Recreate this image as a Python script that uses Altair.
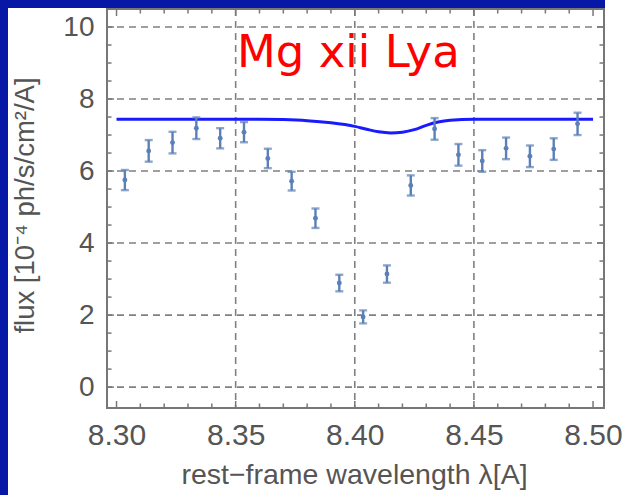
import altair as alt
import pandas as pd

# ---- data ----
wavelength = [8.3035, 8.3135, 8.3235, 8.3335, 8.3435, 8.3535, 8.3635, 8.3735, 8.3835, 8.3935,
              8.4035, 8.4135, 8.4235, 8.4335, 8.4435, 8.4535, 8.4635, 8.4735, 8.4835, 8.4935]
flux = [5.75, 6.56, 6.79, 7.19, 6.91, 7.08, 6.35, 5.72, 4.69, 2.89,
        1.95, 3.14, 5.60, 7.17, 6.45, 6.28, 6.63, 6.41, 6.61, 7.31]
flux_err = [0.28, 0.30, 0.30, 0.30, 0.28, 0.28, 0.27, 0.26, 0.27, 0.23,
            0.18, 0.24, 0.28, 0.30, 0.30, 0.30, 0.30, 0.30, 0.30, 0.31]

model_wavelength = [8.30, 8.36, 8.37, 8.38, 8.39, 8.40, 8.405, 8.41, 8.415, 8.42,
                    8.425, 8.43, 8.435, 8.44, 8.45, 8.50]
model_flux = [7.44, 7.44, 7.43, 7.40, 7.34, 7.24, 7.16, 7.09, 7.06, 7.08,
              7.15, 7.27, 7.36, 7.41, 7.44, 7.44]

x_major = [8.30, 8.35, 8.40, 8.45, 8.50]
x_minor = [8.31, 8.32, 8.33, 8.34, 8.36, 8.37, 8.38, 8.39, 8.41, 8.42, 8.43, 8.44,
           8.46, 8.47, 8.48, 8.49]
x_grid = [8.35, 8.40, 8.45]
y_major = [0, 2, 4, 6, 8, 10]
y_minor = [0.5, 1, 1.5, 2.5, 3, 3.5, 4.5, 5, 5.5, 6.5, 7, 7.5, 8.5, 9, 9.5]
y_grid = [0, 2, 4, 6, 8, 10]

title_text = "Mg xii Lya"
x_title = "rest\u2212frame wavelength \u03bb[A]"
y_title = "flux [10\u207b\u2074 ph/s/cm\u00b2/A]"

# ---- layout / style ----
W, H = 497, 399
PAD = {"left": 107, "top": 9, "right": 19, "bottom": 87}
GRAY = "#555555"
GRID = "#808080"
FRAME = "#777777"
PT = "#5b80b8"
BG_BLUE = "#0818a6"
FONT = "Liberation Sans"

obs = pd.DataFrame({"wl": wavelength, "flux": flux,
                    "lo": [f - e for f, e in zip(flux, flux_err)],
                    "hi": [f + e for f, e in zip(flux, flux_err)]})
model = pd.DataFrame({"wl": model_wavelength, "flux": model_flux})

xscale = alt.Scale(domain=[8.296, 8.5046], nice=False, zero=False)
yscale = alt.Scale(domain=[-0.58, 10.5], nice=False, zero=False)

xaxis = alt.Axis(values=x_major, format=".2f", labelFontSize=30, labelColor=GRAY, labelFont=FONT,
                 labelPadding=12, ticks=False, domain=False, grid=False, labelFlush=False,
                 labelOverlap=False, title=x_title, titleFont=FONT, titleFontSize=28.5,
                 titleFontWeight="normal", titleColor=GRAY, titleX=247, titleY=75,
                 titleBaseline="alphabetic", titleAlign="center")
yaxis = alt.Axis(values=y_major, format="d", labelFontSize=28, labelColor=GRAY, labelFont=FONT,
                 labelPadding=13, ticks=False, domain=False, grid=False, labelFlush=False,
                 labelOverlap=False, title=y_title, titleFont=FONT, titleFontSize=27.5,
                 titleFontWeight="normal", titleColor=GRAY, titleAngle=270, titleX=-74,
                 titleY=196, titleBaseline="alphabetic", titleAlign="center")


def X(field):
    return alt.X(field, type="quantitative", scale=xscale, axis=xaxis)


def Y(field):
    return alt.Y(field, type="quantitative", scale=yscale, axis=yaxis)


one = pd.DataFrame({"k": [0]})

# blue border strips (decoration of the slide)
left_strip = alt.Chart(one).mark_rect(color=BG_BLUE).encode(
    x=alt.value(-PAD["left"]), x2=alt.value(-PAD["left"] + 8),
    y=alt.value(-PAD["top"]), y2=alt.value(H + PAD["bottom"]))
top_strip = alt.Chart(one).mark_rect(color=BG_BLUE).encode(
    x=alt.value(-PAD["left"]), x2=alt.value(498),
    y=alt.value(-PAD["top"]), y2=alt.value(-PAD["top"] + 8))

ygrid = alt.Chart(pd.DataFrame({"v": y_grid})).mark_rule(
    color=GRID, strokeDash=[7, 5], strokeWidth=1.6).encode(y=Y("v"))
xgrid = alt.Chart(pd.DataFrame({"v": x_grid})).mark_rule(
    color=GRID, strokeDash=[7, 5], strokeWidth=1.6).encode(x=X("v"))


# inward ticks
def xticks(vals, length):
    d = pd.DataFrame({"v": vals})
    b = alt.Chart(d).mark_rule(color=FRAME, strokeWidth=1.5).encode(
        x=X("v"), y=alt.value(H), y2=alt.value(H - length))
    t = alt.Chart(d).mark_rule(color=FRAME, strokeWidth=1.5).encode(
        x=X("v"), y=alt.value(0), y2=alt.value(length))
    return [b, t]


def yticks(vals, length):
    d = pd.DataFrame({"v": vals})
    l = alt.Chart(d).mark_rule(color=FRAME, strokeWidth=1.5).encode(
        y=Y("v"), x=alt.value(0), x2=alt.value(length))
    r = alt.Chart(d).mark_rule(color=FRAME, strokeWidth=1.5).encode(
        y=Y("v"), x=alt.value(W), x2=alt.value(W - length))
    return [l, r]


model_line = alt.Chart(model).mark_line(color="#1a1aff", strokeWidth=3, interpolate="monotone").encode(
    x=X("wl"), y=Y("flux"))

bars = alt.Chart(obs).mark_rule(color=PT, strokeWidth=2.4).encode(
    x=X("wl"), y=Y("lo"), y2="hi")
cap_lo = alt.Chart(obs).mark_tick(color=PT, orient="horizontal", size=8, thickness=2.4).encode(
    x=X("wl"), y=Y("lo"))
cap_hi = alt.Chart(obs).mark_tick(color=PT, orient="horizontal", size=8, thickness=2.4).encode(
    x=X("wl"), y=Y("hi"))
pts = alt.Chart(obs).mark_circle(color=PT, size=24, opacity=1).encode(
    x=X("wl"), y=Y("flux"))

label = alt.Chart(one).mark_text(color="#ff0000", font="DejaVu Sans", fontSize=45,
                                 align="left", baseline="alphabetic").encode(
    x=alt.value(130), y=alt.value(58), text=alt.value(title_text))

layers = [ygrid, xgrid] + xticks(x_major, 7) + xticks(x_minor, 4.5) + yticks(y_major, 7) + \
    yticks(y_minor, 4.5) + [model_line, bars, cap_lo, cap_hi, pts, label, left_strip, top_strip]

chart = alt.layer(*layers).properties(
    width=W, height=H, padding=PAD, autosize=alt.AutoSizeParams(type="none"),
    background="white"
).configure_view(stroke=FRAME, strokeWidth=2)

chart.save("out.html", embed_options={"renderer": "svg", "actions": False})
